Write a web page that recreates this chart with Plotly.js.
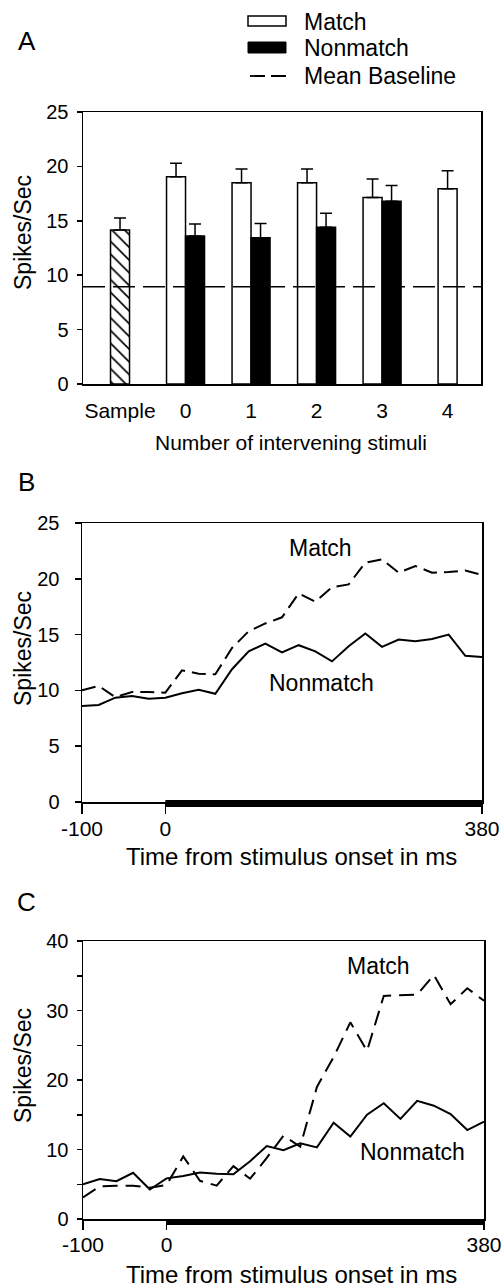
<!DOCTYPE html>
<html>
<head>
<meta charset="utf-8">
<script src="https://cdn.plot.ly/plotly-3.0.1.min.js"></script>
<style>
  html, body { margin: 0; padding: 0; background: #fff; }
  #chart { width: 503px; height: 1288px; }
</style>
</head>
<body>
<div id="chart"></div>
<script>
// ---------- Panel A data ----------
const categoriesA = ['Sample', '0', '1', '2', '3', '4'];
const sampleValue = [14.15];
const sampleSem = [1.1];
const matchCats = ['0', '1', '2', '3', '4'];
const matchValues = [19.05, 18.5, 18.5, 17.15, 17.95];
const matchSem = [1.25, 1.25, 1.25, 1.7, 1.65];
const nonmatchCats = ['0', '1', '2', '3'];
const nonmatchValues = [13.6, 13.45, 14.4, 16.8];
const nonmatchSem = [1.1, 1.3, 1.3, 1.45];
const meanBaseline = 8.94;
const legendLabels = ['Match', 'Nonmatch', 'Mean Baseline'];

// ---------- Panel B / C data ----------
const timeMs = [-100, -80, -60, -40, -20, 0, 20, 40, 60, 80, 100, 120, 140, 160, 180, 200, 220, 240, 260, 280, 300, 320, 340, 360, 380];
const matchB = [10.0, 10.4, 9.4, 9.85, 9.85, 9.8, 11.8, 11.5, 11.45, 13.8, 15.3, 16.0, 16.55, 18.7, 17.95, 19.25, 19.5, 21.45, 21.75, 20.55, 21.15, 20.55, 20.6, 20.75, 20.35];
const nonmatchB = [8.6, 8.7, 9.35, 9.5, 9.25, 9.35, 9.75, 10.05, 9.7, 11.9, 13.5, 14.2, 13.4, 14.05, 13.5, 12.6, 13.95, 15.1, 13.9, 14.55, 14.4, 14.6, 15.0, 13.1, 13.0];
const matchC = [3.1, 4.7, 4.8, 4.8, 4.5, 4.9, 9.0, 5.5, 4.8, 7.6, 5.8, 8.8, 12.0, 10.4, 19.0, 23.3, 28.3, 24.2, 32.1, 32.2, 32.3, 35.1, 30.9, 33.2, 31.4];
const nonmatchC = [5.0, 5.75, 5.45, 6.65, 4.25, 5.85, 6.2, 6.7, 6.5, 6.45, 8.3, 10.5, 9.9, 10.9, 10.3, 13.85, 11.85, 15.0, 16.65, 14.4, 17.0, 16.3, 15.1, 12.8, 14.0];
const stimulusOn = 0;
const stimulusOff = 380;

const timeTicks = [-100, 0, 380];
const timeTickText = ['-100', '0', '380'];
const yTicksAB = [0, 5, 10, 15, 20, 25];
const yTicksC = [0, 5, 10, 15, 20, 25, 30, 35, 40];
const yTickTextC = ['0', '', '10', '', '20', '', '30', '', '40'];

// ---------- helpers ----------
const FONT = '"Liberation Sans", Arial, Helvetica, sans-serif';
const idx = c => categoriesA.indexOf(c);
const xRangeA = [-0.565, 5.51];
const xRangeT = [-100, 380];
const barW = 0.29;

const traces = [];

// Sample (hatched)
traces.push({
  type: 'bar', name: 'Sample', x: ['Sample'].map(idx), y: sampleValue, width: barW, offset: -barW / 2,
  marker: { color: 'white', line: { color: 'black', width: 1.5 },
            pattern: { shape: '\\', fgcolor: 'black', bgcolor: 'white', size: 9, solidity: 0.18 } },
  error_y: { type: 'data', symmetric: false, array: sampleSem, arrayminus: sampleSem.map(() => 0),
             color: 'black', thickness: 1.5, width: 6 },
  xaxis: 'x', yaxis: 'y', hoverinfo: 'skip'
});
// Match
traces.push({
  type: 'bar', name: 'Match', x: matchCats.map(idx), y: matchValues, width: barW,
  offset: matchCats.map(c => (nonmatchCats.includes(c) ? -barW : -barW / 2)),
  marker: { color: 'white', line: { color: 'black', width: 1.5 } },
  error_y: { type: 'data', symmetric: false, array: matchSem, arrayminus: matchSem.map(() => 0),
             color: 'black', thickness: 1.5, width: 6 },
  xaxis: 'x', yaxis: 'y'
});
// Nonmatch
traces.push({
  type: 'bar', name: 'Nonmatch', x: nonmatchCats.map(idx), y: nonmatchValues, width: barW, offset: 0,
  marker: { color: 'black', line: { color: 'black', width: 1.5 } },
  error_y: { type: 'data', symmetric: false, array: nonmatchSem, arrayminus: nonmatchSem.map(() => 0),
             color: 'black', thickness: 1.5, width: 6 },
  xaxis: 'x', yaxis: 'y'
});
// Mean baseline
traces.push({
  type: 'scatter', mode: 'lines', name: 'Mean Baseline', x: xRangeA, y: [meanBaseline, meanBaseline],
  line: { color: 'black', width: 1.5, dash: '22px,8px' }, xaxis: 'x', yaxis: 'y'
});

// Panel B
traces.push({ type: 'scatter', mode: 'lines', name: 'Match', x: timeMs, y: matchB,
  line: { color: 'black', width: 2, dash: '14px,7px' }, xaxis: 'x2', yaxis: 'y2' });
traces.push({ type: 'scatter', mode: 'lines', name: 'Nonmatch', x: timeMs, y: nonmatchB,
  line: { color: 'black', width: 2 }, xaxis: 'x2', yaxis: 'y2' });
// Panel C
traces.push({ type: 'scatter', mode: 'lines', name: 'Match', x: timeMs, y: matchC,
  line: { color: 'black', width: 2, dash: '15px,8px' }, xaxis: 'x3', yaxis: 'y3' });
traces.push({ type: 'scatter', mode: 'lines', name: 'Nonmatch', x: timeMs, y: nonmatchC,
  line: { color: 'black', width: 2 }, xaxis: 'x3', yaxis: 'y3' });

const py = p => 1 - p / 1288;   // pixel row -> paper fraction
const px = p => p / 503;

const baseAxis = {
  showline: true, linecolor: 'black', linewidth: 1.5, mirror: true,
  showgrid: false, zeroline: false, color: 'black',
  tickfont: { family: FONT, size: 20, color: 'black' }, tickcolor: 'black', tickwidth: 1.5
};

function stimShape(xa, ya, yLo, yHi) {
  const f = v => (v - xRangeT[0]) / (xRangeT[1] - xRangeT[0]);
  return { type: 'rect', xref: xa + ' domain', yref: ya + ' domain', x0: f(stimulusOn), x1: f(stimulusOff),
           y0: yLo, y1: yHi, fillcolor: 'black', line: { width: 0 }, layer: 'above' };
}

const ann = (text, x, y, size, extra) => Object.assign({
  text, x, y, xref: 'paper', yref: 'paper', showarrow: false,
  font: { family: FONT, size, color: 'black' }, xanchor: 'center', yanchor: 'middle'
}, extra || {});

// hand-drawn key for panel A (sized like the original key)
const keyShapes = [
  { type: 'rect', xref: 'paper', yref: 'paper', x0: px(248), x1: px(286), y0: py(26), y1: py(16),
    fillcolor: 'white', line: { color: 'black', width: 1.5 } },
  { type: 'rect', xref: 'paper', yref: 'paper', x0: px(248), x1: px(286), y0: py(53), y1: py(42),
    fillcolor: 'black', line: { color: 'black', width: 1 } },
  { type: 'line', xref: 'paper', yref: 'paper', x0: px(250), x1: px(287), y0: py(76), y1: py(76),
    line: { color: 'black', width: 1.8, dash: '15px,6px' } }
];
const keyText = legendLabels.map((t, i) => ann(t, px(302), py([22, 48, 76][i]), 23, { xanchor: 'left' }));

const layout = {
  width: 503, height: 1288,
  margin: { l: 0, r: 0, t: 0, b: 0 },
  paper_bgcolor: 'white', plot_bgcolor: 'white',
  font: { family: FONT, color: 'black' },
  barmode: 'overlay',
  showlegend: false,
  xaxis: Object.assign({}, baseAxis, {
    domain: [px(83), px(481)], anchor: 'y', range: xRangeA,
    tickmode: 'array', tickvals: categoriesA.map(idx), ticktext: categoriesA, ticks: '',
    tickfont: { family: FONT, size: 21, color: 'black' }, ticklabelstandoff: 7
  }),
  yaxis: Object.assign({}, baseAxis, {
    domain: [py(384), py(112)], anchor: 'x', range: [0, 25],
    tickmode: 'array', tickvals: yTicksAB, ticks: 'outside', ticklen: 5, ticklabelstandoff: 4
  }),
  yaxis4: { overlaying: 'y', anchor: 'x', range: [0, 25], tickmode: 'array', tickvals: yTicksAB,
    ticks: 'inside', ticklen: 5, tickwidth: 1.5, tickcolor: 'black', showticklabels: false,
    showline: false, showgrid: false, zeroline: false },
  xaxis2: Object.assign({}, baseAxis, {
    domain: [px(82), px(482)], anchor: 'y2', range: xRangeT,
    tickmode: 'array', tickvals: timeTicks, ticktext: timeTickText, ticks: 'outside', ticklen: 10,
    tickfont: { family: FONT, size: 21, color: 'black' }, ticklabelstandoff: -3
  }),
  yaxis2: Object.assign({}, baseAxis, {
    domain: [py(802), py(523)], anchor: 'x2', range: [0, 25],
    tickmode: 'array', tickvals: yTicksAB, ticks: 'outside', ticklen: 6, ticklabelstandoff: 11
  }),
  yaxis5: { overlaying: 'y2', anchor: 'x2', range: [0, 25], tickmode: 'array', tickvals: yTicksAB,
    ticks: 'inside', ticklen: 6, tickwidth: 1.5, tickcolor: 'black', showticklabels: false,
    showline: false, showgrid: false, zeroline: false },
  xaxis3: Object.assign({}, baseAxis, {
    domain: [px(83), px(484)], anchor: 'y3', range: xRangeT,
    tickmode: 'array', tickvals: timeTicks, ticktext: timeTickText, ticks: 'outside', ticklen: 9,
    tickfont: { family: FONT, size: 21, color: 'black' }, ticklabelstandoff: -3
  }),
  yaxis3: Object.assign({}, baseAxis, {
    domain: [py(1219), py(941)], anchor: 'x3', range: [0, 40],
    tickmode: 'array', tickvals: yTicksC, ticktext: yTickTextC, ticks: 'outside', ticklen: 5, ticklabelstandoff: 4
  }),
  yaxis6: { overlaying: 'y3', anchor: 'x3', range: [0, 40], tickmode: 'array', tickvals: yTicksC,
    ticks: 'inside', ticklen: 5, tickwidth: 1.5, tickcolor: 'black', showticklabels: false,
    showline: false, showgrid: false, zeroline: false },
  shapes: [
    stimShape('x2', 'y2', -0.018, 0.007),
    stimShape('x3', 'y3', -0.022, 0.0)
  ].concat(keyShapes),
  annotations: [
    ann('A', px(27), py(41), 26),
    ann('B', px(26), py(482), 26),
    ann('C', px(26), py(902), 26),
    ann('Spikes/Sec', px(23), py(233), 23, { textangle: -90 }),
    ann('Spikes/Sec', px(23), py(649), 23, { textangle: -90 }),
    ann('Spikes/Sec', px(23), py(1066), 23, { textangle: -90 }),
    ann('Number of intervening stimuli', px(291), py(442), 21),
    ann('Time from stimulus onset in ms', px(291.5), py(856), 24),
    ann('Time from stimulus onset in ms', px(291.5), py(1274), 24),
    { text: 'Match', x: 186, y: 22.8, xref: 'x2', yref: 'y2', showarrow: false, font: { family: FONT, size: 23, color: 'black' } },
    { text: 'Nonmatch', x: 187, y: 10.7, xref: 'x2', yref: 'y2', showarrow: false, font: { family: FONT, size: 23, color: 'black' } },
    { text: 'Match', x: 254, y: 36.4, xref: 'x3', yref: 'y3', showarrow: false, font: { family: FONT, size: 23, color: 'black' } },
    { text: 'Nonmatch', x: 294, y: 9.6, xref: 'x3', yref: 'y3', showarrow: false, font: { family: FONT, size: 23, color: 'black' } }
  ].concat(keyText)
};

Plotly.newPlot('chart', traces, layout, { staticPlot: true, displayModeBar: false });
</script>
</body>
</html>
